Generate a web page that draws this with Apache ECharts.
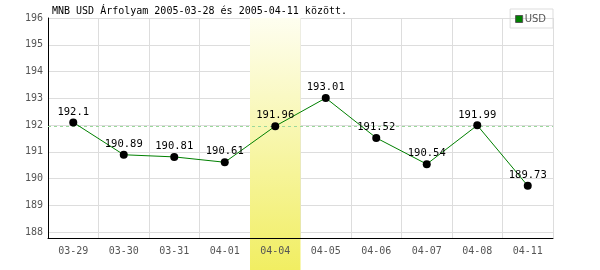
<!DOCTYPE html>
<html><head><meta charset="utf-8">
<script src="https://cdn.jsdelivr.net/npm/echarts@6/dist/echarts.min.js"></script>
<style>html,body{margin:0;padding:0;background:#fff}#c{width:600px;height:270px}</style>
</head><body><div id="c"></div>
<script>
var categories = ['03-29','03-30','03-31','04-01','04-04','04-05','04-06','04-07','04-08','04-11'];
var usdValues = [192.1, 190.89, 190.81, 190.61, 191.96, 193.01, 191.52, 190.54, 191.99, 189.73];
var yTicks = [188, 189, 190, 191, 192, 193, 194, 195, 196];
var highlightCategory = '04-04';
var referenceValue = 191.96;
var titleText = 'MNB USD Árfolyam 2005-03-28 és 2005-04-11 között.';

var mono = '"DejaVu Sans Mono", "Liberation Mono", monospace';
var bandData = categories.map(function(c){ return c === highlightCategory ? 1 : null; });

var chart = echarts.init(document.getElementById('c'), null, {renderer:'canvas'});
chart.setOption({
  animation: false,
  backgroundColor: '#fff',
  title: {text: titleText, left: 52, top: 6, padding: 0,
    textStyle: {fontFamily: mono, fontSize: 10, fontWeight: 'normal', color: '#000'}},
  legend: {data: ['USD'], right: 47, top: 9, padding: [5, 7, 4, 5], borderColor: '#ddd', borderWidth: 1,
    icon: 'rect', itemWidth: 7, itemHeight: 7, itemGap: 2,
    itemStyle: {borderColor: '#555', borderWidth: 1},
    textStyle: {fontFamily: 'DejaVu Sans', fontSize: 10, color: '#555', padding: [0,0,0,-3]}},
  grid: [
    {left: 48, right: 47, top: 18, bottom: 32, containLabel: false},
    {left: 48, right: 47, top: 18, bottom: 0, containLabel: false}
  ],
  xAxis: [
    {type: 'category', gridIndex: 0, data: categories, boundaryGap: true, z: 0,
     axisLine: {show: false}, axisTick: {show: false},
     axisLabel: {show: false},
     splitLine: {show: true, lineStyle: {color: '#ddd', width: 1}}},
    {type: 'category', gridIndex: 1, data: categories, show: false},
    {type: 'category', gridIndex: 0, data: categories, position: 'bottom', z: 10,
     axisLine: {show: true, lineStyle: {color: '#000', width: 1}}, axisTick: {show: false}, splitLine: {show: false},
     axisLabel: {fontFamily: mono, fontSize: 10, color: '#555', margin: 8}}
  ],
  yAxis: [
    {type: 'value', gridIndex: 0, min: 187.78, max: 196, z: 0,
     axisLine: {show: true, lineStyle: {color: '#000', width: 1}}, axisTick: {show: false, customValues: yTicks},
     axisLabel: {customValues: yTicks, fontFamily: mono, fontSize: 10, color: '#555', margin: 5},
     splitLine: {show: true, lineStyle: {color: '#ddd', width: 1}}},
    {type: 'value', gridIndex: 1, min: 0, max: 1, show: false}
  ],
  series: [
    {name: 'ref', type: 'line', xAxisIndex: 0, yAxisIndex: 0, data: [], z: 0, silent: true,
     markLine: {silent: true, symbol: 'none', label: {show: false},
       lineStyle: {color: '#9ad89a', type: [3, 3], width: 1},
       data: [{yAxis: referenceValue}]}},
    {name: 'band', type: 'bar', xAxisIndex: 1, yAxisIndex: 1, data: bandData, z: 1,
     barWidth: '100%', barCategoryGap: 0, silent: true,
     itemStyle: {color: new echarts.graphic.LinearGradient(0, 0, 0, 1, [
       {offset: 0, color: '#fefef0'}, {offset: 1, color: '#f1ee62'}])}},
    {name: 'USD', type: 'line', xAxisIndex: 0, yAxisIndex: 0, z: 11,
     data: usdValues.map(function(v){ return {value: v, itemStyle: {color: '#000'}}; }),
     symbol: 'circle', symbolSize: 8, showAllSymbol: true,
     lineStyle: {color: '#008000', width: 1},
     itemStyle: {color: '#008000'},
     label: {show: true, position: 'top', distance: 1, color: '#000', fontFamily: mono, fontSize: 10.5}}
  ]
});
</script></body></html>
